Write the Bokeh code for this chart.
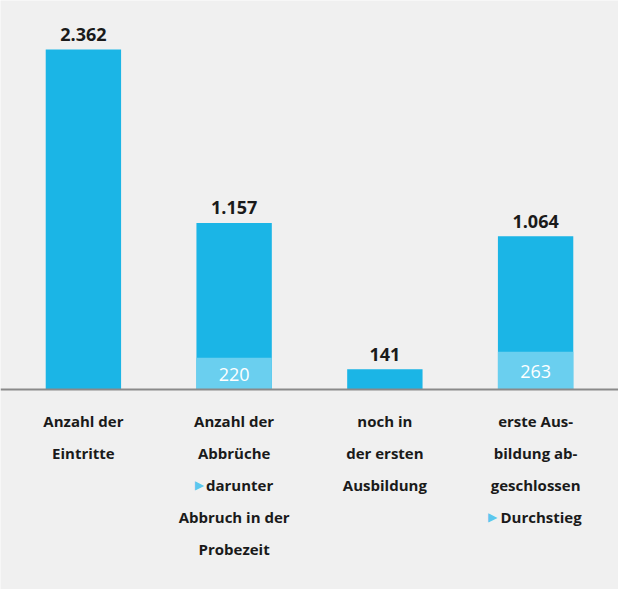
from bokeh.plotting import figure
from bokeh.models import ColumnDataSource, FactorRange, Range1d, Span
from bokeh.core.properties import value
from bokeh.embed import file_html
from bokeh.resources import INLINE

# ---- data ----
categories = ["Eintritte", "Abbrüche", "noch in Ausbildung", "abgeschlossen"]
totals = [2362, 1157, 141, 1064]
total_labels = ["2.362", "1.157", "141", "1.064"]
sub_values = [0, 220, 0, 263]
sub_labels = ["", "220", "", "263"]
label_lines = [
    ["Anzahl der", "Eintritte"],
    ["Anzahl der", "Abbrüche", "▶darunter", "Abbruch in der", "Probezeit"],
    ["noch in", "der ersten", "Ausbildung"],
    ["erste Aus-", "bildung ab-", "geschlossen", "▶Durchstieg"],
]

# ---- style ----
BG = "#f0f0f0"
MAIN = "#1bb5e6"
LIGHT = "#6acfef"
TRI = "#5cc7ee"
TXT = "#1a1a1a"
FONT = value("Open Sans")

p = figure(
    width=618, height=589,
    x_range=FactorRange(*categories, range_padding=0.05, range_padding_units="absolute"),
    y_range=Range1d(-1389, 2702),
    output_backend="svg", toolbar_location=None,
    min_border=0, min_border_left=0, min_border_right=0, min_border_top=0, min_border_bottom=0,
)
p.background_fill_color = BG
p.border_fill_color = BG
p.outline_line_color = None
p.xaxis.visible = False
p.yaxis.visible = False
p.xgrid.visible = False
p.ygrid.visible = False

# main bars
src = ColumnDataSource(dict(x=categories, top=totals, lab=total_labels))
p.vbar(x="x", top="top", width=0.5, source=src, fill_color=MAIN, line_color=None)
p.text(x="x", y="top", text="lab", source=src, text_align="center",
       text_baseline="alphabetic", y_offset=-15, text_font=FONT,
       text_font_style="bold", text_font_size="18px", text_color=TXT)

# sub bars
sx = [c for c, v in zip(categories, sub_values) if v > 0]
sv = [v for v in sub_values if v > 0]
sl = [l for l, v in zip(sub_labels, sub_values) if v > 0]
ssrc = ColumnDataSource(dict(x=sx, top=sv, mid=[v / 2 for v in sv], lab=sl))
p.vbar(x="x", top="top", width=0.5, source=ssrc, fill_color=LIGHT, line_color=None)
p.text(x="x", y="mid", text="lab", source=ssrc, text_align="center",
       text_baseline="middle", text_font=FONT, text_font_size="18px",
       text_color="white", y_offset=1)

# baseline
p.add_layout(Span(location=0, dimension="width", line_color="#8a8a8a", line_width=2))

# category labels
lx, ly, lt, lxo, lyo = [], [], [], [], []
tx, ty, txo, tyo = [], [], [], []
for cat, lines in zip(categories, label_lines):
    for i, line in enumerate(lines):
        yo = 31 + 32 * i
        if line.startswith("▶"):
            t = line[1:]
            w = 8.2 * len(t)
            lx.append(cat); ly.append(0); lt.append(t); lxo.append(5.5); lyo.append(yo)
            tx.append(cat); ty.append(0); txo.append(-w / 2 - 2); tyo.append(yo)
        else:
            lx.append(cat); ly.append(0); lt.append(line); lxo.append(0); lyo.append(yo)

lsrc = ColumnDataSource(dict(x=lx, y=ly, text=lt, xo=lxo, yo=lyo))
p.text(x="x", y="y", text="text", x_offset="xo", y_offset="yo", source=lsrc,
       text_align="center", text_baseline="middle", text_font=FONT,
       text_font_style="bold", text_font_size="15px", text_color=TXT)

tsrc = ColumnDataSource(dict(x=tx, y=ty, xo=txo, yo=tyo, text=["▶"] * len(tx)))
p.text(x="x", y="y", text="text", x_offset="xo", y_offset="yo", source=tsrc,
       text_align="center", text_baseline="middle", text_font=value("DejaVu Sans"),
       text_font_size="12px", text_color=TRI)

open("out.html", "w").write(file_html(p, INLINE))
